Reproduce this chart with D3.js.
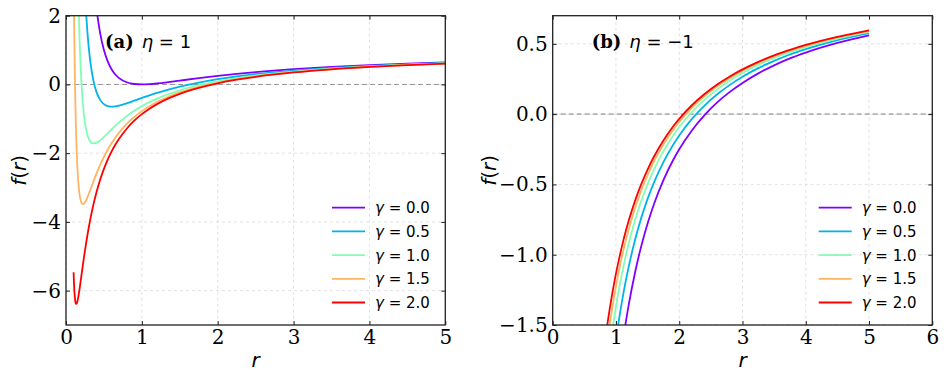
<!DOCTYPE html>
<html>
<head>
<meta charset="utf-8">
<title>f(r) for eta = 1 and eta = -1</title>
<script src="https://cdn.jsdelivr.net/npm/d3@7"></script>
<style>
  body { margin: 0; background: #fff; }
  .grid line { stroke: #d9d9d9; stroke-width: 0.8; stroke-dasharray: 3,3; }
  .zero { stroke: #999; stroke-width: 1.1; stroke-dasharray: 5,3; }
  .tick text { font-family: "DejaVu Serif", serif; font-size: 20px; fill: #000; }
  .axis path, .axis line { stroke: #222; }
  .frame { fill: none; stroke: #222; stroke-width: 1.3; }
  .curve { fill: none; stroke-width: 1.8; }
</style>
</head>
<body>
<div id="chart"></div>
<script>
// legend values of gamma and line colours (rainbow colormap)
var gammas = [0.0, 0.5, 1.0, 1.5, 2.0];
var colors = ["#8000ff", "#00b4eb", "#80ffb4", "#ffb462", "#ff0000"];

// panel (a): eta = 1
var rLeft = [0.1, 0.11, 0.12, 0.13, 0.14, 0.15, 0.16, 0.18, 0.2, 0.22, 0.24, 0.26, 0.28, 0.3, 0.33, 0.36,
  0.4, 0.45, 0.5, 0.55, 0.6, 0.65, 0.7, 0.8, 0.9, 1.0, 1.1, 1.2, 1.35, 1.5, 1.75, 2.0, 2.25, 2.5, 3.0, 3.5, 4.0, 4.5, 5.0];
var fLeft_g00 = [81, 65.46, 53.78, 44.79, 37.73, 32.11, 27.56, 20.75, 16, 12.57, 10.03, 8.10, 6.61, 5.44, 4.122, 3.160,
  2.25, 1.494, 1.0, 0.669, 0.444, 0.290, 0.184, 0.0625, 0.0123, 0.0, 0.0083, 0.0278, 0.0672, 0.1111, 0.1837, 0.25, 0.3086, 0.36, 0.4444, 0.5102, 0.5625, 0.6049, 0.64];
var fLeft_g05 = [41.65, 32.95, 26.45, 21.51, 17.66, 14.62, 12.19, 8.61, 6.163, 4.440, 3.197, 2.280, 1.593, 1.073, 0.509, 0.124,
  -0.209, -0.449, -0.574, -0.631, -0.648, -0.641, -0.619, -0.552, -0.473, -0.393, -0.317, -0.245, -0.149, -0.064, 0.055, 0.152, 0.231, 0.297, 0.401, 0.478, 0.538, 0.586, 0.624];
var fLeft_g10 = [17.79, 13.22, 9.88, 7.38, 5.48, 4.017, 2.870, 1.243, 0.197, -0.490, -0.946, -1.250, -1.451, -1.579, -1.683, -1.717,
  -1.701, -1.628, -1.528, -1.420, -1.311, -1.206, -1.106, -0.925, -0.768, -0.632, -0.514, -0.411, -0.280, -0.170, -0.023, 0.092, 0.184, 0.259, 0.374, 0.459, 0.523, 0.574, 0.615];
var fLeft_g15 = [3.313, 1.259, -0.172, -1.182, -1.902, -2.416, -2.784, -3.224, -3.422, -3.481, -3.459, -3.391, -3.297, -3.187, -3.012, -2.834,
  -2.605, -2.343, -2.108, -1.899, -1.714, -1.549, -1.402, -1.151, -0.947, -0.777, -0.634, -0.512, -0.359, -0.234, -0.070, 0.056, 0.155, 0.236, 0.358, 0.447, 0.514, 0.567, 0.609];
var fLeft_g20 = [-5.466, -5.997, -6.268, -6.376, -6.381, -6.318, -6.213, -5.934, -5.617, -5.295, -4.984, -4.690, -4.417, -4.163, -3.818, -3.511,
  -3.154, -2.776, -2.459, -2.189, -1.957, -1.757, -1.581, -1.289, -1.055, -0.865, -0.706, -0.573, -0.407, -0.273, -0.099, 0.034, 0.138, 0.222, 0.348, 0.440, 0.508, 0.562, 0.605];

// panel (b): eta = -1
var rRight = [0.8, 0.85, 0.9, 0.95, 1.0, 1.05, 1.1, 1.15, 1.2, 1.3, 1.4, 1.5, 1.6, 1.75, 1.9, 2.0,
  2.2, 2.4, 2.6, 2.8, 3.0, 3.25, 3.5, 3.75, 4.0, 4.5, 5.0];
var fRight_g00 = [-3.063, -2.737, -2.457, -2.213, -2.0, -1.812, -1.645, -1.495, -1.361, -1.130, -0.939, -0.778, -0.641, -0.469, -0.330, -0.25,
  -0.116, -0.007, 0.083, 0.158, 0.222, 0.290, 0.347, 0.396, 0.4375, 0.506, 0.56];
var fRight_g05 = [-2.448, -2.192, -1.971, -1.777, -1.607, -1.455, -1.320, -1.198, -1.088, -0.897, -0.738, -0.603, -0.487, -0.341, -0.221, -0.152,
  -0.034, 0.061, 0.141, 0.208, 0.266, 0.327, 0.379, 0.424, 0.462, 0.526, 0.576];
var fRight_g10 = [-2.075, -1.862, -1.676, -1.513, -1.368, -1.238, -1.122, -1.017, -0.922, -0.756, -0.616, -0.497, -0.394, -0.263, -0.155, -0.092,
  0.015, 0.103, 0.176, 0.239, 0.292, 0.350, 0.399, 0.440, 0.477, 0.537, 0.585];
var fRight_g15 = [-1.849, -1.662, -1.498, -1.353, -1.223, -1.107, -1.003, -0.908, -0.822, -0.670, -0.542, -0.433, -0.337, -0.216, -0.114, -0.056,
  0.045, 0.128, 0.198, 0.257, 0.309, 0.364, 0.410, 0.451, 0.486, 0.545, 0.591];
var fRight_g20 = [-1.712, -1.540, -1.389, -1.255, -1.135, -1.028, -0.930, -0.841, -0.761, -0.619, -0.498, -0.394, -0.303, -0.187, -0.090, -0.034,
  0.063, 0.143, 0.211, 0.268, 0.318, 0.372, 0.418, 0.457, 0.492, 0.549, 0.595];

var xTicksLeft = [0, 1, 2, 3, 4, 5];
var yTicksLeft = [-6, -4, -2, 0, 2];
var xTicksRight = [0, 1, 2, 3, 4, 5, 6];
var yTicksRight = [-1.5, -1.0, -0.5, 0.0, 0.5];

var width = 947, height = 382;

var svg = d3.select("#chart").append("svg")
  .attr("width", width)
  .attr("height", height);

function drawPanel(p) {
  var x = d3.scaleLinear().domain(p.xDomain).range([p.left, p.right]);
  var y = d3.scaleLinear().domain(p.yDomain).range([p.bottom, p.top]);
  var g = svg.append("g");

  // grid
  var grid = g.append("g").attr("class", "grid");
  grid.selectAll("line.v").data(p.xTicks).enter().append("line")
    .attr("x1", function(d) { return x(d); }).attr("x2", function(d) { return x(d); })
    .attr("y1", p.top).attr("y2", p.bottom);
  grid.selectAll("line.h").data(p.yTicks).enter().append("line")
    .attr("y1", function(d) { return y(d); }).attr("y2", function(d) { return y(d); })
    .attr("x1", p.left).attr("x2", p.right);

  // y = 0 reference line
  g.append("line").attr("class", "zero")
    .attr("x1", p.left).attr("x2", p.right)
    .attr("y1", y(0)).attr("y2", y(0));

  // curves
  g.append("clipPath").attr("id", p.id + "-clip")
    .append("rect")
    .attr("x", p.left).attr("y", p.top)
    .attr("width", p.right - p.left).attr("height", p.bottom - p.top);

  var line = d3.line()
    .x(function(d) { return x(d[0]); })
    .y(function(d) { return y(d[1]); })
    .curve(d3.curveMonotoneX);

  var curves = g.append("g").attr("clip-path", "url(#" + p.id + "-clip)");
  p.series.forEach(function(s, i) {
    curves.append("path")
      .attr("class", "curve")
      .attr("stroke", colors[i])
      .attr("d", line(p.r.map(function(r, k) { return [r, s[k]]; })));
  });

  // axes with inward ticks on all sides
  var fmtY = d3.format(p.yFormat);
  g.append("g").attr("class", "axis")
    .attr("transform", "translate(0," + p.bottom + ")")
    .call(d3.axisBottom(x).tickValues(p.xTicks).tickFormat(d3.format("d")).tickSizeInner(-4).tickSizeOuter(0).tickPadding(5));
  g.append("g").attr("class", "axis")
    .attr("transform", "translate(" + p.left + ",0)")
    .call(d3.axisLeft(y).tickValues(p.yTicks).tickFormat(fmtY).tickSizeInner(-4).tickSizeOuter(0).tickPadding(5));
  g.append("g").attr("class", "axis")
    .attr("transform", "translate(0," + p.top + ")")
    .call(d3.axisTop(x).tickValues(p.xTicks).tickFormat("").tickSizeInner(-4).tickSizeOuter(0));
  g.append("g").attr("class", "axis")
    .attr("transform", "translate(" + p.right + ",0)")
    .call(d3.axisRight(y).tickValues(p.yTicks).tickFormat("").tickSizeInner(-4).tickSizeOuter(0));
  g.selectAll(".axis path").remove();

  g.append("rect").attr("class", "frame")
    .attr("x", p.left).attr("y", p.top)
    .attr("width", p.right - p.left).attr("height", p.bottom - p.top);

  // axis labels
  g.append("text")
    .attr("x", (p.left + p.right) / 2).attr("y", 367)
    .attr("text-anchor", "middle")
    .style("font-family", "DejaVu Sans").style("font-style", "italic").style("font-size", "20px")
    .text("r");
  var yl = g.append("text")
    .attr("transform", "translate(" + (p.yLabelX + 7) + "," + ((p.top + p.bottom) / 2) + ") rotate(-90)")
    .attr("text-anchor", "middle")
    .style("font-family", "DejaVu Sans").style("font-size", "20px");
  yl.append("tspan").style("font-style", "italic").text("f");
  yl.append("tspan").text("(");
  yl.append("tspan").style("font-style", "italic").text("r");
  yl.append("tspan").text(")");

  // panel title
  var t = g.append("text")
    .attr("x", p.titleX).attr("y", 48)
    .style("font-size", "18px");
  t.append("tspan").style("font-family", "DejaVu Serif").style("font-weight", "bold").text(p.tag);
  t.append("tspan").style("font-family", "DejaVu Sans").style("font-style", "italic").attr("dx", 8).text("η");
  t.append("tspan").style("font-family", "DejaVu Sans").text(" = " + p.eta);

  // legend
  var lg = g.append("g").attr("transform", "translate(" + (p.left + 266) + "," + (p.top + 192) + ")");
  gammas.forEach(function(gm, i) {
    var row = lg.append("g").attr("transform", "translate(0," + (i * 23.7) + ")");
    row.append("line").attr("x1", 0).attr("x2", 33).attr("y1", 0).attr("y2", 0)
      .attr("stroke", colors[i]).attr("stroke-width", 1.8);
    var tx = row.append("text").attr("x", 43).attr("dy", "0.36em")
      .style("font-family", "DejaVu Sans").style("font-size", "15px");
    tx.append("tspan").style("font-style", "italic").text("γ");
    tx.append("tspan").text(" = " + d3.format(".1f")(gm));
  });
}

drawPanel({
  id: "pa", left: 66, right: 445.3, top: 15.7, bottom: 325,
  xDomain: [0, 5], yDomain: [-7, 2],
  xTicks: xTicksLeft, yTicks: yTicksLeft, yFormat: "d",
  r: rLeft, series: [fLeft_g00, fLeft_g05, fLeft_g10, fLeft_g15, fLeft_g20],
  tag: "(a)", eta: "1", titleX: 105, yLabelX: 19
});

drawPanel({
  id: "pb", left: 552.7, right: 932.3, top: 15.7, bottom: 325,
  xDomain: [0, 6], yDomain: [-1.5, 0.7],
  xTicks: xTicksRight, yTicks: yTicksRight, yFormat: ".1f",
  r: rRight, series: [fRight_g00, fRight_g05, fRight_g10, fRight_g15, fRight_g20],
  tag: "(b)", eta: "\u22121", titleX: 591.7, yLabelX: 489
});
</script>
</body>
</html>
